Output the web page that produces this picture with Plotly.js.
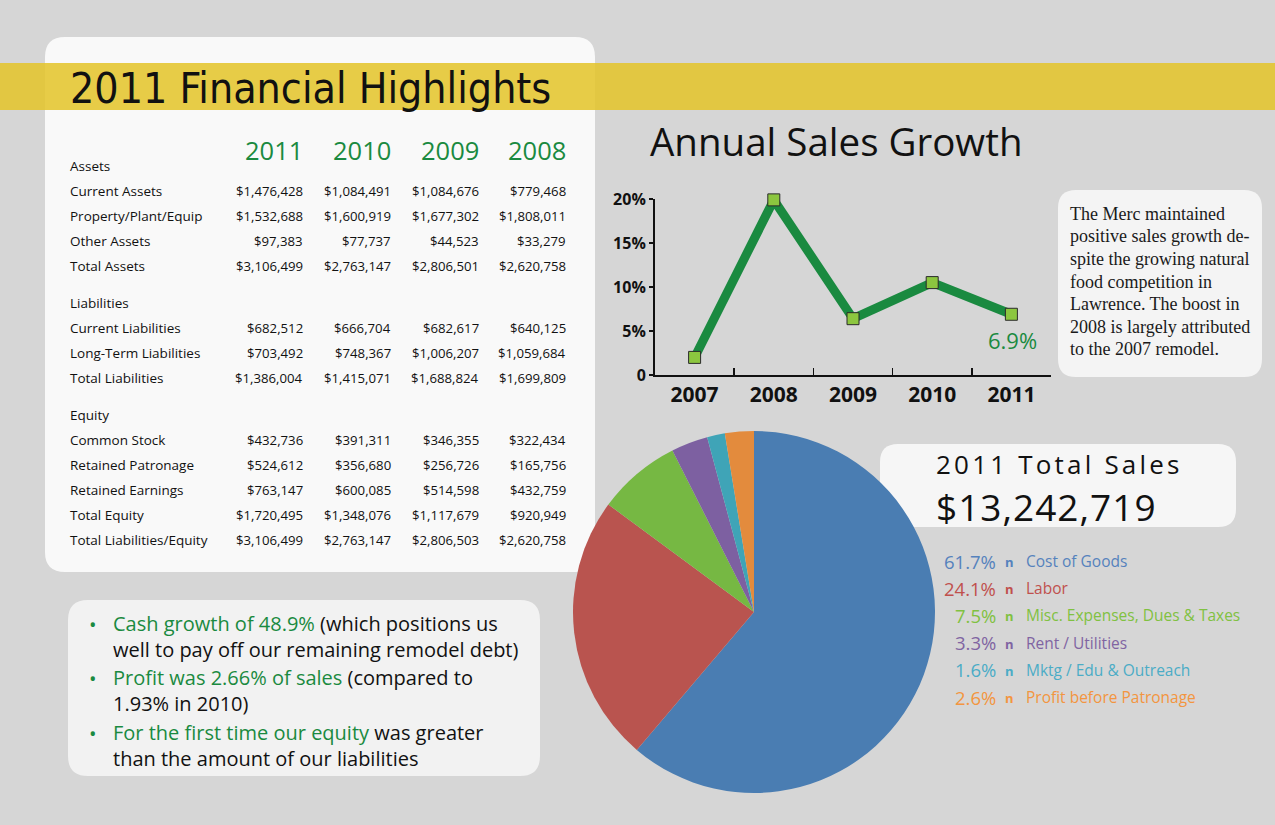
<!DOCTYPE html>
<html>
<head>
<meta charset="utf-8">
<script src="https://cdn.plot.ly/plotly-3.0.1.min.js"></script>
<style>
  html,body{margin:0;padding:0;background:#d6d6d6;}
  #chart{width:1275px;height:825px;}
</style>
</head>
<body>
<div id="chart"></div>
<script>
// ---------------- DATA ----------------
const tableYears = ['2011', '2010', '2009', '2008'];

const assetLabels = ['Current Assets', 'Property/Plant/Equip', 'Other Assets', 'Total Assets'];
const currentAssets = [1476428, 1084491, 1084676, 779468];
const propertyPlantEquip = [1532688, 1600919, 1677302, 1808011];
const otherAssets = [97383, 77737, 44523, 33279];
const totalAssets = [3106499, 2763147, 2806501, 2620758];

const liabilityLabels = ['Current Liabilities', 'Long-Term Liabilities', 'Total Liabilities'];
const currentLiabilities = [682512, 666704, 682617, 640125];
const longTermLiabilities = [703492, 748367, 1006207, 1059684];
const totalLiabilities = [1386004, 1415071, 1688824, 1699809];

const equityLabels = ['Common Stock', 'Retained Patronage', 'Retained Earnings', 'Total Equity', 'Total Liabilities/Equity'];
const commonStock = [432736, 391311, 346355, 322434];
const retainedPatronage = [524612, 356680, 256726, 165756];
const retainedEarnings = [763147, 600085, 514598, 432759];
const totalEquity = [1720495, 1348076, 1117679, 920949];
const totalLiabilitiesEquity = [3106499, 2763147, 2806503, 2620758];

const growthYears = ['2007', '2008', '2009', '2010', '2011'];
const salesGrowth = [2.0, 19.9, 6.4, 10.5, 6.9];

const salesCategories = ['Cost of Goods', 'Labor', 'Misc. Expenses, Dues & Taxes', 'Rent / Utilities', 'Mktg / Edu & Outreach', 'Profit before Patronage'];
const salesShares = [61.7, 24.1, 7.5, 3.3, 1.6, 2.6];
const totalSales = 13242719;

const bulletHighlights = ['Cash growth of 48.9%', 'Profit was 2.66% of sales', 'For the first time our equity'];
const bulletRest = [' (which positions us|well to pay off our remaining remodel debt)', ' (compared to|1.93% in 2010)', ' was greater|than the amount of our liabilities'];

const noteLines = ['The Merc maintained', 'positive sales growth de-', 'spite the growing natural', 'food competition in', 'Lawrence. The boost in', '2008 is largely attributed', 'to the 2007 remodel.'];

// ---------------- STYLE ----------------
const W = 1275, H = 825;
const GREEN = '#1a8a40';
const SANS = 'Open Sans, Noto Sans, sans-serif';
const NARROW = 'Liberation Sans Narrow, DejaVu Sans Condensed, Arial Narrow, sans-serif';
const SERIF = 'Liberation Serif, DejaVu Serif, serif';
const pieColors = ['#4a7db2', '#b9544f', '#76b843', '#7d60a1', '#3fa4b7', '#e38b3d'];
const legendColors = ['#5582bd', '#c0504d', '#80c141', '#8064a2', '#4bacc6', '#f39540'];

const X = v => v / W;
const Y = v => 1 - v / H;

function rr(x0, y0, x1, y1, r) {
  return `M${X(x0 + r)},${Y(y0)} L${X(x1 - r)},${Y(y0)} Q${X(x1)},${Y(y0)} ${X(x1)},${Y(y0 + r)} ` +
         `L${X(x1)},${Y(y1 - r)} Q${X(x1)},${Y(y1)} ${X(x1 - r)},${Y(y1)} L${X(x0 + r)},${Y(y1)} ` +
         `Q${X(x0)},${Y(y1)} ${X(x0)},${Y(y1 - r)} L${X(x0)},${Y(y0 + r)} Q${X(x0)},${Y(y0)} ${X(x0 + r)},${Y(y0)} Z`;
}

const annotations = [];
function ann(text, x, y, o = {}) {
  annotations.push({
    text: text, xref: 'paper', yref: 'paper', x: X(x), y: Y(y),
    xanchor: o.anchor || 'left', yanchor: 'middle', showarrow: false,
    align: o.anchor || 'left',
    font: {family: o.family || SANS, size: o.size || 13, color: o.color || '#1a1a1a'}
  });
}
const fmt = v => '$' + v.toLocaleString('en-US');

// ---------------- TABLE ----------------
ann('2011 Financial Highlights', 68, 88, {family: NARROW, size: 42.5, color: '#111'});
const colRight = [304, 392, 480, 567];
tableYears.forEach((yr, i) => ann(yr, colRight[i] + 1, 150, {anchor: 'right', size: 25.5, color: GREEN}));

const sections = [
  {title: 'Assets', labels: assetLabels, rows: [currentAssets, propertyPlantEquip, otherAssets, totalAssets]},
  {title: 'Liabilities', labels: liabilityLabels, rows: [currentLiabilities, longTermLiabilities, totalLiabilities]},
  {title: 'Equity', labels: equityLabels, rows: [commonStock, retainedPatronage, retainedEarnings, totalEquity, totalLiabilitiesEquity]}
];
let rowY = 166;
sections.forEach((sec, si) => {
  if (si > 0) rowY += 37;
  ann(sec.title, 68, rowY, {size: 13.5, color: '#111'});
  sec.labels.forEach((lab, ri) => {
    const yy = rowY + 25 * (ri + 1);
    ann(lab, 68, yy, {size: 13.5, color: '#111'});
    sec.rows[ri].forEach((v, ci) => ann(fmt(v), colRight[ci] + 1, yy, {anchor: 'right', size: 13.2, color: '#111'}));
  });
  rowY += 25 * sec.labels.length;
});

// ---------------- BULLETS ----------------
const bulletY = [636, 690, 745];
bulletHighlights.forEach((h, i) => {
  const parts = bulletRest[i].split('|');
  ann('•', 87, bulletY[i] - 12, {size: 20, color: GREEN});
  ann(`<span style="color:${GREEN}">${h}</span>${parts[0]}<br>${parts[1]}`, 111, bulletY[i], {size: 20, color: '#111'});
});

// ---------------- LINE CHART TEXT ----------------
ann('Annual Sales Growth', 648, 141, {size: 38.5, color: '#111'});
ann(salesGrowth[4].toFixed(1) + '%', 1012, 340, {anchor: 'center', size: 22, color: GREEN});
noteLines.forEach((l, i) => ann(l, 1068, 214 + 22.5 * i, {family: SERIF, size: 18, color: '#1a1a1a'}));

// ---------------- PIE TEXT ----------------
ann('<span style="letter-spacing:3.2px">2011 Total Sales</span>', 934, 464, {size: 26, color: '#111'});
ann(`<span style="letter-spacing:1px">${fmt(totalSales)}</span>`, 934, 507, {size: 37, color: '#111'});
salesCategories.forEach((c, i) => {
  const yy = 561 + 27.2 * i;
  ann(salesShares[i].toFixed(1) + '%', 998, yy, {anchor: 'right', size: 18.5, color: legendColors[i]});
  ann('<b>n</b>', 1009, yy + 1, {anchor: 'center', size: 13, color: legendColors[i]});
  ann(c, 1024, yy, {size: 15.5, color: legendColors[i]});
});

// ---------------- SHAPES ----------------
const shapes = [
  {type: 'path', path: rr(45, 37, 595, 572, 20), xref: 'paper', yref: 'paper', fillcolor: 'rgba(255,255,255,0.85)', line: {width: 0}, layer: 'below'},
  {type: 'rect', xref: 'paper', yref: 'paper', x0: 0, x1: 1, y0: Y(110), y1: Y(63), fillcolor: 'rgba(228,196,40,0.85)', line: {width: 0}, layer: 'below'},
  {type: 'path', path: rr(1058, 190, 1262, 377, 18), xref: 'paper', yref: 'paper', fillcolor: 'rgba(255,255,255,0.72)', line: {width: 0}, layer: 'below'},
  {type: 'path', path: rr(880, 444, 1236, 527, 18), xref: 'paper', yref: 'paper', fillcolor: 'rgba(255,255,255,0.78)', line: {width: 0}, layer: 'below'},
  {type: 'path', path: rr(68, 600, 540, 776, 20), xref: 'paper', yref: 'paper', fillcolor: 'rgba(255,255,255,0.68)', line: {width: 0}, layer: 'below'}
];

// ---------------- TRACES ----------------
const lineTrace = {
  type: 'scatter', mode: 'lines+markers', x: growthYears, y: salesGrowth,
  line: {color: GREEN, width: 9},
  marker: {symbol: 'square', size: 12, color: '#8cc63f', line: {color: '#2b2b2b', width: 1}},
  cliponaxis: false, hoverinfo: 'skip', xaxis: 'x', yaxis: 'y'
};

const pieTrace = {
  type: 'pie', labels: salesCategories, values: salesShares, sort: false,
  direction: 'clockwise', rotation: 0, textinfo: 'none', hoverinfo: 'skip',
  marker: {colors: pieColors, line: {width: 0}},
  domain: {x: [X(573), X(935)], y: [Y(793), Y(431)]},
  showlegend: false
};

const layout = {
  width: W, height: H, margin: {l: 0, r: 0, t: 0, b: 0},
  paper_bgcolor: '#d6d6d6', plot_bgcolor: 'rgba(0,0,0,0)',
  showlegend: false,
  xaxis: {
    domain: [X(655), X(1051)], type: 'category', range: [-0.5, 4.5],
    showline: true, linecolor: '#111', linewidth: 2, showgrid: false, zeroline: false,
    ticks: 'inside', tickson: 'boundaries', ticklen: 7, tickwidth: 1.5, tickcolor: '#111',
    tickfont: {family: SANS, size: 21, color: '#111', weight: 'bold'}, fixedrange: true
  },
  yaxis: {
    domain: [Y(375), Y(199)], range: [0, 20],
    tickvals: [0, 5, 10, 15, 20], ticktext: ['0', '5%', '10%', '15%', '20%'],
    showline: true, linecolor: '#111', linewidth: 2, showgrid: false, zeroline: false,
    ticks: 'outside', ticklen: 4, tickwidth: 1.5, tickcolor: '#111',
    tickfont: {family: SANS, size: 16, color: '#111', weight: 'bold'}, fixedrange: true
  },
  shapes: shapes,
  annotations: annotations
};

Plotly.newPlot('chart', [pieTrace, lineTrace], layout, {displayModeBar: false, staticPlot: true});
</script>
</body>
</html>
